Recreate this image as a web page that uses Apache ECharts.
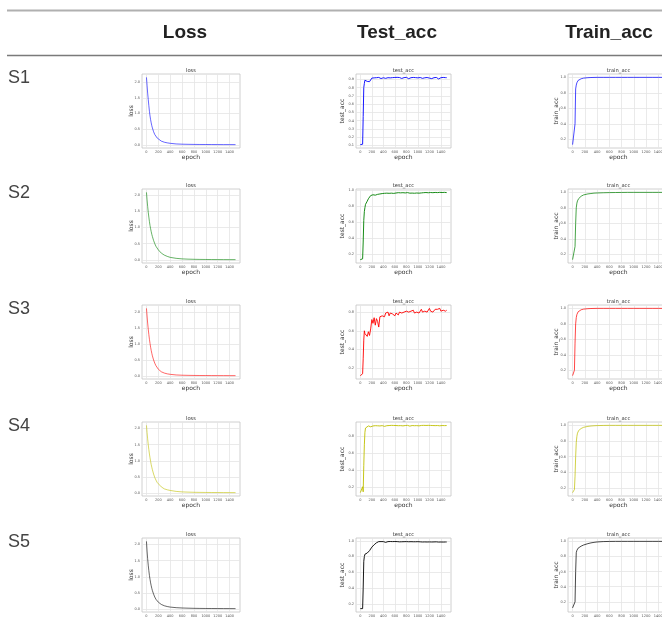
<!DOCTYPE html>
<html><head><meta charset="utf-8">
<script src="https://cdn.jsdelivr.net/npm/echarts@6/dist/echarts.min.js"></script>
<style>html,body{margin:0;padding:0;background:#fff}#c{width:662px;height:618px}</style>
</head><body><div id="c"></div><script>
// ---------- data ----------
const rowLabels = ['S1','S2','S3','S4','S5'];
const colHeaders = ['Loss','Test_acc','Train_acc'];
const plotTitles = ['loss','test_acc','train_acc'];
const seriesColors = ['#0000ff','#008000','#ff0000','#bfbf00','#000000'];
const epochTicks = [0,200,400,600,800,1000,1200,1400];

const smoothEpochs = [0,10,20,30,40,50,60,70,80,90,100,120,140,160,180,200,250,300,350,400,500,600,700,800,900,1000,1100,1200,1300,1400,1500];
const testEpochs = [0,20,40,50,60,70,80,90,
 100,120,140,160,180,200,220,240,260,280,
 300,320,340,360,380,400,420,440,460,480,
 500,520,540,560,580,600,620,640,660,680,
 700,720,740,760,780,800,820,840,860,880,
 900,920,940,960,980,1000,1020,1040,1060,1080,
 1100,1120,1140,1160,1180,1200,1220,1240,1260,1280,
 1300,1320,1340,1360,1380,1400,1420,1440,1460,1480,1500];

const lossS1 = [2.15,1.9,1.65,1.45,1.25,1.07,0.92,0.8,0.7,0.61,0.54,0.42,0.33,0.27,0.22,0.18,0.12,0.085,0.065,0.05,0.03,0.022,0.018,0.015,0.013,0.012,0.011,0.01,0.009,0.009,0.008];
const lossS2 = [2.08,1.85,1.65,1.47,1.32,1.18,1.06,0.96,0.87,0.79,0.72,0.6,0.5,0.42,0.36,0.31,0.21,0.15,0.11,0.08,0.05,0.033,0.025,0.02,0.017,0.015,0.013,0.012,0.011,0.01,0.01];
const lossS3 = [2.12,1.88,1.66,1.47,1.3,1.15,1.02,0.9,0.8,0.71,0.63,0.5,0.4,0.32,0.26,0.21,0.13,0.09,0.065,0.05,0.03,0.022,0.018,0.015,0.013,0.012,0.011,0.01,0.01,0.009,0.009];
const lossS4 = [2.1,1.88,1.68,1.5,1.35,1.21,1.09,0.98,0.88,0.8,0.72,0.59,0.48,0.4,0.33,0.28,0.19,0.13,0.1,0.08,0.05,0.035,0.028,0.023,0.02,0.018,0.016,0.015,0.014,0.013,0.012];
const lossS5 = [2.1,1.8,1.56,1.36,1.19,1.04,0.92,0.81,0.72,0.64,0.57,0.46,0.37,0.3,0.25,0.21,0.14,0.1,0.075,0.058,0.04,0.03,0.024,0.02,0.017,0.015,0.014,0.013,0.012,0.011,0.01];

const trainS1 = [0.13,0.13,0.13,0.135,0.4,0.85,0.9,0.93,0.95,0.96,0.967,0.975,0.982,0.987,0.99,0.993,0.996,0.998,0.999,1,1,1,1,1,1,1,1,1,1,1,1];
const trainS2 = [0.13,0.13,0.13,0.14,0.3,0.6,0.8,0.86,0.89,0.91,0.92,0.94,0.95,0.96,0.967,0.972,0.98,0.985,0.99,0.992,0.995,0.997,0.998,0.999,1,1,1,1,1,1,1];
const trainS3 = [0.13,0.13,0.13,0.2,0.55,0.8,0.88,0.92,0.94,0.955,0.965,0.975,0.982,0.987,0.99,0.993,0.996,0.998,0.999,1,1,1,1,1,1,1,1,1,1,1,1];
const trainS4 = [0.14,0.14,0.14,0.18,0.35,0.6,0.78,0.86,0.9,0.92,0.935,0.95,0.96,0.968,0.975,0.98,0.987,0.992,0.995,0.997,0.999,1,1,1,1,1,1,1,1,1,1];
const trainS5 = [0.12,0.14,0.11,0.14,0.2,0.6,0.85,0.88,0.9,0.91,0.92,0.93,0.937,0.945,0.952,0.958,0.97,0.98,0.987,0.992,0.997,0.999,1,1,1,1,1,1,1,1,1];

const testS1 = [0.11,0.11,0.115,0.45,0.8,0.85,0.89,0.9,
 0.885,0.875,0.89,0.872,0.888,0.915,0.922,0.918,0.923,0.92,
 0.916,0.923,0.921,0.91,0.924,0.919,0.922,0.912,0.923,0.92,
 0.924,0.918,0.922,0.921,0.915,0.923,0.92,0.924,0.917,0.922,
 0.92,0.911,0.923,0.921,0.918,0.924,0.92,0.908,0.922,0.92,
 0.915,0.923,0.91,0.921,0.923,0.918,0.906,0.922,0.92,0.912,
 0.923,0.919,0.907,0.922,0.921,0.915,0.923,0.909,0.921,0.92,
 0.912,0.923,0.918,0.905,0.922,0.92,0.913,0.923,0.91,0.921,0.92];
const testS2 = [0.13,0.13,0.14,0.35,0.62,0.73,0.78,0.82,
 0.84,0.86,0.89,0.91,0.93,0.925,0.94,0.945,0.935,0.95,
 0.945,0.955,0.95,0.96,0.955,0.962,0.958,0.965,0.96,0.963,
 0.958,0.966,0.96,0.963,0.957,0.965,0.962,0.958,0.966,0.96,
 0.964,0.959,0.966,0.961,0.963,0.958,0.967,0.962,0.96,0.966,
 0.961,0.964,0.959,0.967,0.962,0.965,0.96,0.967,0.963,0.961,
 0.966,0.962,0.968,0.961,0.965,0.963,0.968,0.962,0.966,0.964,
 0.969,0.963,0.967,0.965,0.97,0.964,0.968,0.966,0.97,0.965,0.967];
const testS3 = [0.12,0.12,0.14,0.3,0.5,0.6,0.57,0.55,
 0.58,0.54,0.59,0.55,0.62,0.72,0.68,0.74,0.66,0.73,
 0.7,0.64,0.75,0.77,0.76,0.78,0.75,0.79,0.77,0.8,
 0.76,0.79,0.77,0.78,0.8,0.76,0.79,0.78,0.77,0.8,
 0.78,0.79,0.77,0.8,0.78,0.81,0.79,0.8,0.78,0.81,
 0.8,0.82,0.79,0.81,0.8,0.82,0.79,0.81,0.83,0.8,
 0.82,0.81,0.83,0.8,0.82,0.84,0.81,0.83,0.8,0.82,
 0.83,0.81,0.83,0.82,0.84,0.81,0.83,0.82,0.83,0.81,0.82];
const testS4 = [0.13,0.13,0.2,0.14,0.45,0.7,0.85,0.9,
 0.92,0.91,0.925,0.93,0.915,0.93,0.925,0.932,0.928,0.93,
 0.927,0.931,0.925,0.932,0.929,0.93,0.92,0.931,0.928,0.932,
 0.93,0.926,0.932,0.929,0.931,0.924,0.93,0.932,0.928,0.931,
 0.929,0.932,0.926,0.931,0.93,0.928,0.932,0.93,0.923,0.931,
 0.93,0.932,0.928,0.931,0.929,0.932,0.926,0.93,0.931,0.929,
 0.932,0.927,0.931,0.93,0.932,0.928,0.931,0.925,0.93,0.932,
 0.929,0.931,0.93,0.932,0.927,0.931,0.93,0.932,0.929,0.931,0.93];
const testS5 = [0.14,0.14,0.14,0.4,0.74,0.8,0.83,0.835,
 0.84,0.845,0.86,0.875,0.9,0.92,0.935,0.95,0.965,0.975,
 0.985,0.99,0.992,0.99,0.993,0.99,0.992,0.98,0.975,0.99,
 0.988,0.991,0.987,0.99,0.988,0.991,0.986,0.99,0.989,0.987,
 0.99,0.988,0.986,0.989,0.987,0.99,0.986,0.988,0.987,0.989,
 0.986,0.988,0.985,0.988,0.987,0.989,0.986,0.987,0.988,0.985,
 0.987,0.986,0.988,0.985,0.987,0.986,0.988,0.985,0.987,0.986,
 0.985,0.987,0.986,0.984,0.987,0.985,0.986,0.984,0.986,0.985,0.985];

const lossTicks = [[0,0.5,1,1.5,2],[0,0.5,1,1.5,2],[0,0.5,1,1.5,2],[0,0.5,1,1.5,2],[0,0.5,1,1.5,2]];
const testTicks = [[0.1,0.2,0.3,0.4,0.5,0.6,0.7,0.8,0.9],[0.2,0.4,0.6,0.8,1.0],[0.2,0.4,0.6,0.8],[0.2,0.4,0.6,0.8],[0.2,0.4,0.6,0.8,1.0]];
const trainTicks = [[0.2,0.4,0.6,0.8,1.0],[0.2,0.4,0.6,0.8,1.0],[0.2,0.4,0.6,0.8,1.0],[0.2,0.4,0.6,0.8,1.0],[0.2,0.4,0.6,0.8,1.0]];

// ---------- layout ----------
const rowTops = [74,189,305,422,538];
const plotH = 74;
const colX = [142,356,568];
const colW = [98,95,101];
const yNameGap = [8,11,9];

const lossData = [lossS1,lossS2,lossS3,lossS4,lossS5];
const testData = [testS1,testS2,testS3,testS4,testS5];
const trainData = [trainS1,trainS2,trainS3,trainS4,trainS5];

const grids=[], xAxes=[], yAxes=[], series=[], graphics=[];
const FONT = 'DejaVu Sans';

function range(vals){
  const mn=Math.min(...vals), mx=Math.max(...vals), p=(mx-mn)*0.05;
  return [mn-p, mx+p];
}

for (let r=0;r<5;r++){
  for (let c=0;c<3;c++){
    const idx=r*3+c;
    const ep = c===1 ? testEpochs : smoothEpochs;
    const vals = c===0 ? lossData[r] : (c===1 ? testData[r] : trainData[r]);
    const ticks = c===0 ? lossTicks[r] : (c===1 ? testTicks[r] : trainTicks[r]);
    const [ymin,ymax] = range(vals);
    grids.push({left:colX[c], top:rowTops[r], width:colW[c], height:plotH,
      outerBoundsMode:'none', containLabel:false,
      show:true, borderColor:'#c4c4c4', borderWidth:0.8, backgroundColor:'#fff'});
    xAxes.push({type:'value', gridIndex:idx, min:-75, max:1575,
      axisLine:{show:false}, axisTick:{show:false, customValues:epochTicks},
      axisLabel:{customValues:epochTicks, fontSize:3.5, color:'#555', margin:2, fontFamily:FONT,
        formatter:v=>String(Math.round(v))},
      splitLine:{show:true, lineStyle:{color:'#e4e4e4', width:0.8}},
      name:'epoch', nameLocation:'middle', nameGap:6.5, nameMoveOverlap:false,
      nameTextStyle:{fontSize:6, color:'#333', fontFamily:FONT}});
    yAxes.push({type:'value', gridIndex:idx, min:ymin, max:ymax,
      axisLine:{show:false}, axisTick:{show:false, customValues:ticks},
      axisLabel:{customValues:ticks, fontSize:3.5, color:'#555', margin:2, fontFamily:FONT,
        formatter:v=>Number(v).toFixed(1)},
      splitLine:{show:true, lineStyle:{color:'#e4e4e4', width:0.8}},
      name:plotTitles[c], nameLocation:'middle', nameGap:yNameGap[c], nameMoveOverlap:false,
      nameTextStyle:{fontSize:6, color:'#333', fontFamily:FONT}});
    series.push({type:'line', xAxisIndex:idx, yAxisIndex:idx, symbol:'none',
      data: ep.map((e,i)=>[e, vals[i]]),
      lineStyle:{color:seriesColors[r], width: c===1 ? 1 : 0.8, opacity: c===0?0.75:0.9},
      silent:true, animation:false});
    graphics.push({type:'text', x:colX[c]+colW[c]/2, y:rowTops[r]-0.5,
      style:{text:plotTitles[c], fontSize:5.2, fontFamily:FONT, fill:'#333', align:'center', verticalAlign:'bottom'}});
  }
  graphics.push({type:'text', x:8, y:rowTops[r]+4,
    style:{text:rowLabels[r], fontSize:18, fontFamily:'Liberation Sans', fill:'#444', align:'left', verticalAlign:'middle'}});
}
const headerX = [185,397,609];
colHeaders.forEach((h,i)=>graphics.push({type:'text', x:headerX[i], y:33,
  style:{text:h, fontSize:19, fontWeight:'bold', fontFamily:'Liberation Sans', fill:'#222', align:'center', verticalAlign:'middle'}}));
graphics.push({type:'line', shape:{x1:7,y1:10.5,x2:662,y2:10.5}, style:{stroke:'#b0b0b0', lineWidth:2}});
graphics.push({type:'line', shape:{x1:7,y1:55.5,x2:662,y2:55.5}, style:{stroke:'#7a7a7a', lineWidth:1.5}});

const chart = echarts.init(document.getElementById('c'), null, {renderer:'canvas'});
chart.setOption({animation:false, backgroundColor:'#fff', grid:grids, xAxis:xAxes, yAxis:yAxes, series:series, graphic:graphics});
</script></body></html>
